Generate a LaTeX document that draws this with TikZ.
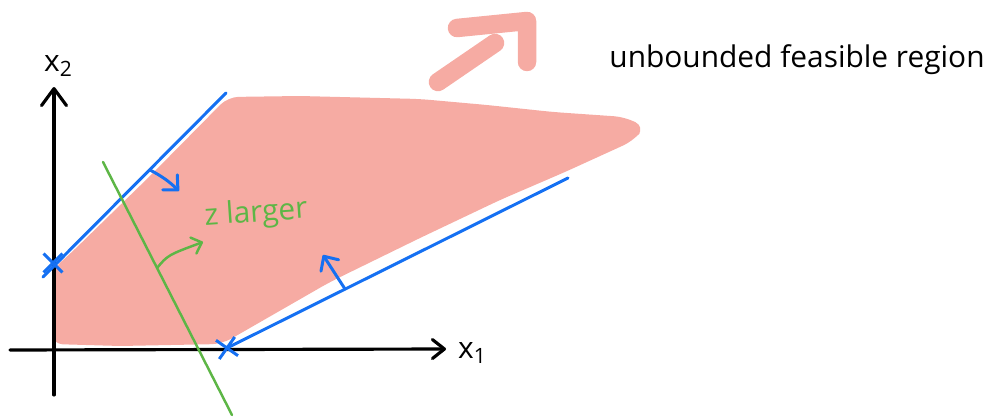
\documentclass[tikz,border=0pt]{standalone}
\usepackage{fontspec}
\setmainfont{Open Sans}
\usetikzlibrary{arrows.meta,shapes.misc}
\definecolor{pinkc}{HTML}{F6ABA3}
\definecolor{pinkarr}{HTML}{F49C93}
\definecolor{bluec}{HTML}{1570F2}
\definecolor{greenc}{HTML}{5DB646}
\begin{document}
\begin{tikzpicture}[x=0.02cm,y=-0.02cm,
  axis/.style={line width=1.8pt,black,line cap=round},
  bline/.style={line width=1.7pt,bluec,line cap=round},
  barrow/.style={line width=1.7pt,bluec,line cap=round,-{Straight Barb[length=2.2mm,width=4.2mm,round]}},
  gline/.style={line width=1.4pt,greenc,line cap=round},
  garrow/.style={line width=1.4pt,greenc,line cap=round,-{Straight Barb[length=1.8mm,width=3.4mm,round]}},
  xmark/.style={cross out,draw=bluec,line width=1.7pt,minimum size=0.32cm,inner sep=0pt},
  parrow/.style={line width=0.37cm,draw=pinkarr,opacity=0.85,line cap=round,line join=round},
  lbl/.style={inner sep=0pt,font=\fontsize{17}{20}\selectfont}]
\useasboundingbox (0,0) rectangle (1005,419);
% feasible region
\fill[pinkc,rounded corners=6pt] (52,270) -- (72,252) -- (150,176) -- (228,97) -- (300,96) -- (420,99)
  -- (487,105) -- (553,112) -- (625,117) -- (645,127) -- (633,141) -- (565,172) -- (500,200)
  -- (420,238) -- (330,282) -- (222,344) -- (120,346) -- (52,344) -- cycle;
% pink arrow
\coordinate (pa1) at (438,82); \coordinate (pa2) at (495,43);
\coordinate (pb1) at (457,28); \coordinate (pb2) at (527,21); \coordinate (pb3) at (527,62);
\draw[parrow] (pa1) -- (pa2);
\draw[parrow] (pb1) -- (pb2) -- (pb3);
% axes
\coordinate (xs) at (10,350); \coordinate (xe) at (446,349);
\coordinate (ys) at (54,395); \coordinate (ye) at (54,87);
\draw[axis,-{Straight Barb[length=2.4mm,width=3.8mm,round]}] (xs) -- (xe);
\draw[axis,-{Straight Barb[length=3.4mm,width=5mm,round]}] (ys) -- (ye);
\node[lbl] (lx1) at (472,353) {x\raisebox{-0.35ex}{\fontsize{12}{12}\selectfont 1}};
\node[lbl] (lx2) at (58,66) {x\raisebox{-0.35ex}{\fontsize{12}{12}\selectfont 2}};
% constraints
\coordinate (b1s) at (43,277); \coordinate (b1e) at (226,93);
\coordinate (b2s) at (227,348); \coordinate (b2e) at (568,178);
\draw[bline] (b1s) -- (b1e);
\draw[bline] (b2s) -- (b2e);
\node[xmark] (c1) at (53,263) {};
\node[xmark,rotate=10] (c2) at (227,348) {};
\coordinate (a1s) at (150,170); \coordinate (a1e) at (179,191);
\coordinate (a2s) at (345,289); \coordinate (a2e) at (323,255);
\draw[barrow] (a1s) to[bend left=8] (a1e);
\draw[barrow] (a2s) -- (a2e);
% objective
\coordinate (gs) at (103,162); \coordinate (ge) at (232,415);
\draw[gline] (gs) -- (ge);
\coordinate (g1s) at (157,268); \coordinate (g1e) at (203,242);
\draw[garrow] (g1s) .. controls (168,255) .. (g1e);
\node[lbl,text=greenc,rotate=4,font=\fontsize{17}{20}\selectfont] (zl) at (256,214) {z larger};
% label
\node[lbl,font=\fontsize{17}{22}\selectfont] (unb) at (797,60) {unbounded feasible region};
\end{tikzpicture}
\end{document}
